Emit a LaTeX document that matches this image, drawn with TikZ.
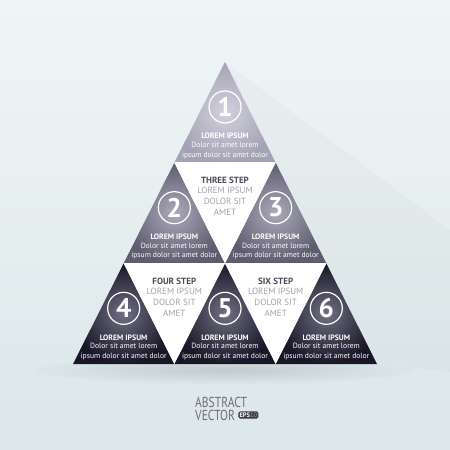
\documentclass[tikz,border=0pt]{standalone}
\usepackage{fontspec}
\setmainfont{PT Sans}
\usetikzlibrary{positioning}

\definecolor{bgtop}{HTML}{EFF5F6}
\definecolor{bgbot}{HTML}{DCE7E9}
\definecolor{inrowa}{HTML}{D2D1DD}
\definecolor{outrowa}{HTML}{A4A2B5}
\definecolor{inrowb}{HTML}{ABAABA}
\definecolor{outrowb}{HTML}{5E5C6F}
\definecolor{inrowc}{HTML}{707082}
\definecolor{outrowc}{HTML}{181627}
\definecolor{headgray}{HTML}{4A4955}
\definecolor{textgray}{HTML}{A3A2AA}
\definecolor{badgegray}{HTML}{3B3A48}

\begin{document}
\begin{tikzpicture}[x=1pt,y=-1pt,
    num/.style={circle, draw=white, line width=1.2pt, minimum size=32pt, inner sep=0pt,
        text=white, font=\bfseries\fontsize{27}{27}\selectfont},
    title/.style={text=white, inner sep=0pt, font=\bfseries\fontsize{7.8}{9}\selectfont},
    body/.style={text=white, align=center, inner sep=0pt, font=\fontsize{7.6}{9.5}\selectfont},
    stephead/.style={text=headgray, inner sep=0pt, font=\bfseries\fontsize{9}{10}\selectfont},
    stepbody/.style={text=textgray, align=center, inner sep=0pt, font=\fontsize{9}{11}\selectfont}]

    \useasboundingbox (0,0) rectangle (450,450);
    \shade[top color=bgtop, bottom color=bgbot] (0,0) rectangle (450,450);
    % soft shadows
    \fill[black, opacity=0.018] (225,62) -- (377,364) -- (450,372) -- (450,230) -- cycle;
    \shade[inner color=black!12!bgbot, outer color=bgbot] (225,370) ellipse (190 and 14);

    % filled triangles
    \foreach \x/\y/\c in {225/62/rowa, 174.33/162.67/rowb, 275.67/162.67/rowb,
                          123.67/263.33/rowc, 225/263.33/rowc, 326.33/263.33/rowc}
        \shade[inner color=in\c, outer color=out\c]
            (\x,\y) -- ++(50.67,100.67) -- ++(-101.33,0) -- cycle;

    % white triangles
    \foreach \x/\y in {225/162.67, 174.33/263.33, 275.67/263.33}
        \fill[white] (\x-50.67,\y) -- (\x+50.67,\y) -- (\x,\y+100.67) -- cycle;

    \draw[white, line width=1pt] (174.8,162.67) -- (275.2,162.67);
    \draw[white, line width=1pt] (124.2,263.33) -- (325.8,263.33);

    % numbered steps
    \foreach \n/\x/\y in {1/225/62, 2/174.33/162.67, 3/275.67/162.67,
                          4/123.67/263.33, 5/225/263.33, 6/326.33/263.33} {
        \node[num] (n\n) at (\x,\y+45) {\n};
        \node[title] (t\n) at (\x,\y+74) {LOREM IPSUM};
        \node[body, below=3pt of t\n] (b\n) {Dolor sit amet lorem\\ipsum dolor sit amet dolor};
    }

    % steps in the white triangles
    \foreach \k/\x/\y/\s in {three/225/162.67/THREE STEP, four/174.33/263.33/FOUR STEP,
                             six/275.67/263.33/SIX STEP} {
        \node[stephead] (h\k) at (\x,\y+18) {\s};
        \node[stepbody, below=3pt of h\k] (s\k) {LOREM IPSUM\\DOLOR SIT\\AMET};
    }

    % caption
    \node[text=headgray!80, inner sep=0pt, anchor=west, xscale=0.8, transform shape,
        font=\fontsize{14.5}{14}\selectfont] (abstract) at (195,402) {ABSTRACT};
    \node[text=headgray!80, inner sep=0pt, anchor=west, xscale=0.8, transform shape,
        font=\fontsize{14.5}{14}\selectfont] (vector) at (195,415) {VECTOR};
    \node[fill=badgegray, rounded corners=1.5pt, inner sep=1.2pt, right=3pt of vector,
        font=\fontsize{6.5}{7}\selectfont] (badge)
        {\textcolor{white}{\bfseries EPS}\textcolor{textgray}{10}};
\end{tikzpicture}
\end{document}
